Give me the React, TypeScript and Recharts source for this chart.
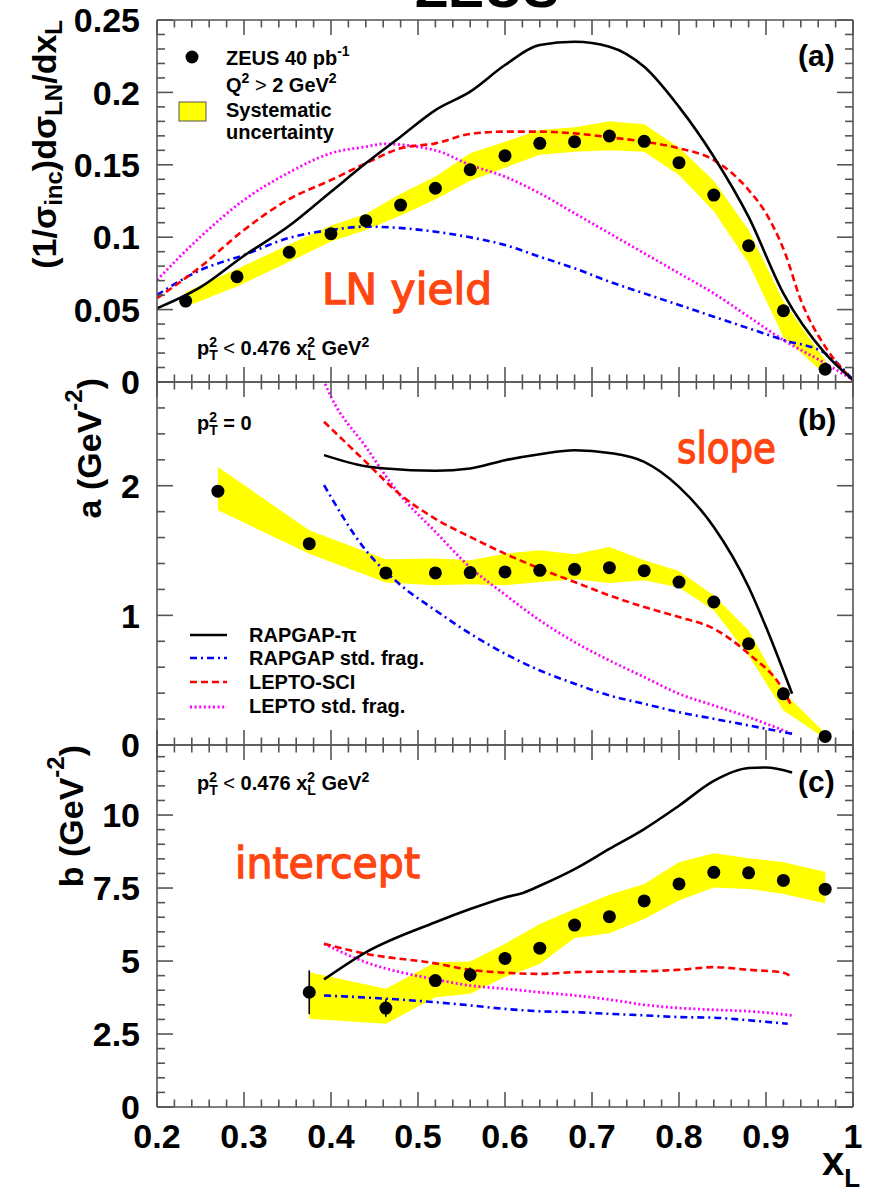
import React from "react";
import { ComposedChart, Line, Area, Scatter, XAxis, YAxis, ErrorBar } from "recharts";

const W = 871;
const FRAME = "#555555";
const FONT = "'Liberation Sans', Arial, Helvetica, sans-serif";
const ORANGE = "#ff4510";

// ---------- x-axis ticks ----------
const xMajorTicks = [0.2, 0.3, 0.4, 0.5, 0.6, 0.7, 0.8, 0.9, 1.0];
const range = (a: number, b: number, s: number) => {
  const out: number[] = [];
  const n = Math.round((b - a) / s);
  for (let i = 0; i <= n; i++) out.push(+(a + i * s).toFixed(4));
  return out;
};
const xAllTicks = range(0.2, 1.0, 0.02);

// ---------- panel (a): LN yield ----------
const aYMajor = [0, 0.05, 0.1, 0.15, 0.2, 0.25];
const aYLabels = ["0", "0.05", "0.1", "0.15", "0.2", "0.25"];
const aYAll = range(0, 0.25, 0.01);
const aX = [0.233, 0.292, 0.352, 0.40, 0.44, 0.48, 0.52, 0.56, 0.60, 0.64, 0.68, 0.72, 0.76, 0.80, 0.84, 0.88, 0.92, 0.968];
const aData = [0.0559, 0.0727, 0.0896, 0.1024, 0.1114, 0.1222, 0.1338, 0.1466, 0.1563, 0.1648, 0.166, 0.1699, 0.1662, 0.1515, 0.1291, 0.0941, 0.0492, 0.0088];
const aLow = [0.052, 0.066, 0.083, 0.097, 0.105, 0.115, 0.126, 0.139, 0.148, 0.157, 0.159, 0.160, 0.159, 0.143, 0.118, 0.082, 0.031, 0.005];
const aHigh = [0.062, 0.078, 0.095, 0.108, 0.116, 0.130, 0.142, 0.158, 0.166, 0.174, 0.176, 0.180, 0.178, 0.162, 0.139, 0.105, 0.056, 0.015];

const aPiX = [0.2, 0.25, 0.3, 0.35, 0.4, 0.44, 0.48, 0.52, 0.56, 0.60, 0.64, 0.68, 0.72, 0.76, 0.80, 0.84, 0.88, 0.92, 0.968, 1.0];
const aPiY = [0.0509, 0.0655, 0.0872, 0.107, 0.1314, 0.151, 0.1694, 0.1878, 0.2005, 0.2189, 0.2327, 0.235, 0.2316, 0.2177, 0.190, 0.1556, 0.114, 0.0612, 0.0198, 0.0014];
const aSciX = [0.2, 0.25, 0.3, 0.35, 0.4, 0.44, 0.48, 0.52, 0.56, 0.60, 0.64, 0.68, 0.72, 0.76, 0.80, 0.84, 0.88, 0.90, 0.922, 0.94, 0.968, 1.0];
const aSciY = [0.0578, 0.0796, 0.105, 0.1257, 0.1395, 0.151, 0.1614, 0.1648, 0.1713, 0.1729, 0.1729, 0.1717, 0.169, 0.166, 0.1614, 0.1533, 0.1326, 0.1165, 0.0889, 0.0566, 0.0244, 0.0014];
const aLepX = [0.2, 0.25, 0.3, 0.35, 0.4, 0.44, 0.46, 0.52, 0.56, 0.60, 0.64, 0.68, 0.72, 0.76, 0.80, 0.84, 0.88, 0.92, 0.968, 1.0];
const aLepY = [0.0704, 0.1003, 0.1257, 0.1441, 0.158, 0.1625, 0.1644, 0.160, 0.1499, 0.1418, 0.1303, 0.1165, 0.1027, 0.0889, 0.0751, 0.0612, 0.0451, 0.029, 0.0129, 0.0014];
const aStdX = [0.2, 0.25, 0.3, 0.35, 0.4, 0.44, 0.52, 0.56, 0.60, 0.64, 0.68, 0.72, 0.76, 0.80, 0.84, 0.88, 0.92, 0.968, 1.0];
const aStdY = [0.0601, 0.0773, 0.0877, 0.0992, 0.105, 0.1073, 0.1038, 0.0999, 0.0946, 0.0865, 0.0785, 0.0693, 0.0612, 0.0532, 0.0451, 0.0371, 0.029, 0.0198, 0.0014];

// ---------- panel (b): slope ----------
const bYMajor = [0, 1, 2];
const bYLabels = ["0", "1", "2"];
const bYAll = range(0, 2.8, 0.2);
const bX = [0.27, 0.375, 0.463, 0.52, 0.56, 0.60, 0.64, 0.68, 0.72, 0.76, 0.80, 0.84, 0.88, 0.92, 0.968];
const bData = [1.958, 1.553, 1.327, 1.327, 1.33, 1.335, 1.347, 1.355, 1.368, 1.345, 1.257, 1.103, 0.781, 0.395, 0.066];
const bLow = [1.811, 1.476, 1.253, 1.232, 1.239, 1.232, 1.257, 1.278, 1.249, 1.27, 1.214, 1.039, 0.691, 0.266, 0.05];
const bHigh = [2.145, 1.656, 1.432, 1.438, 1.425, 1.476, 1.502, 1.471, 1.527, 1.425, 1.342, 1.154, 0.884, 0.408, 0.09];

const bPiX = [0.392, 0.44, 0.463, 0.52, 0.56, 0.60, 0.64, 0.68, 0.72, 0.76, 0.80, 0.84, 0.88, 0.90, 0.93];
const bPiY = [2.236, 2.15, 2.133, 2.115, 2.133, 2.197, 2.243, 2.274, 2.253, 2.184, 1.991, 1.682, 1.219, 0.91, 0.395];
const bSciX = [0.392, 0.44, 0.478, 0.52, 0.56, 0.60, 0.64, 0.68, 0.72, 0.76, 0.80, 0.84, 0.88, 0.92, 0.93];
const bSciY = [2.493, 2.184, 1.94, 1.745, 1.605, 1.476, 1.361, 1.257, 1.154, 1.064, 0.987, 0.897, 0.704, 0.421, 0.292];
const bLepX = [0.383, 0.40, 0.44, 0.478, 0.52, 0.56, 0.60, 0.64, 0.68, 0.72, 0.76, 0.80, 0.84, 0.88, 0.93];
const bLepY = [2.95, 2.686, 2.3, 1.94, 1.645, 1.37, 1.16, 0.961, 0.794, 0.652, 0.524, 0.395, 0.305, 0.215, 0.086];
const bStdX = [0.392, 0.44, 0.478, 0.52, 0.56, 0.60, 0.64, 0.68, 0.72, 0.76, 0.80, 0.84, 0.88, 0.93];
const bStdY = [2.004, 1.502, 1.245, 1.039, 0.859, 0.704, 0.575, 0.473, 0.382, 0.318, 0.253, 0.202, 0.151, 0.086];

// ---------- panel (c): intercept ----------
const cYMajor = [0, 2.5, 5, 7.5, 10];
const cYLabels = ["0", "2.5", "5", "7.5", "10"];
const cYAll = range(0, 12, 0.5);
const cX = [0.375, 0.463, 0.52, 0.56, 0.60, 0.64, 0.68, 0.72, 0.76, 0.80, 0.84, 0.88, 0.92, 0.968];
const cData = [3.93, 3.39, 4.33, 4.53, 5.09, 5.44, 6.23, 6.52, 7.06, 7.64, 8.04, 8.02, 7.76, 7.46];
const cErr = [0.75, 0.3, 0.15, 0.25, 0.2, 0.15, 0.15, 0.15, 0.15, 0.15, 0.15, 0.15, 0.15, 0.15];
const cLow = [3.02, 2.85, 3.76, 3.88, 4.45, 4.9, 5.79, 5.95, 6.44, 7.07, 7.52, 7.47, 7.3, 6.98];
const cHigh = [4.62, 4.05, 4.96, 4.98, 5.59, 6.27, 6.78, 7.27, 7.64, 8.38, 8.69, 8.52, 8.38, 8.06];

const cPiX = [0.392, 0.44, 0.52, 0.56, 0.60, 0.622, 0.64, 0.68, 0.72, 0.76, 0.80, 0.84, 0.88, 0.90, 0.93];
const cPiY = [4.37, 5.3, 6.33, 6.78, 7.18, 7.35, 7.58, 8.15, 8.84, 9.52, 10.32, 11.17, 11.61, 11.63, 11.46];
const cSciX = [0.392, 0.44, 0.52, 0.56, 0.60, 0.64, 0.68, 0.72, 0.76, 0.80, 0.84, 0.88, 0.92, 0.93];
const cSciY = [5.59, 5.25, 4.92, 4.7, 4.6, 4.56, 4.62, 4.64, 4.65, 4.7, 4.79, 4.7, 4.6, 4.45];
const cLepX = [0.392, 0.44, 0.52, 0.56, 0.60, 0.64, 0.68, 0.72, 0.76, 0.80, 0.84, 0.88, 0.93];
const cLepY = [5.59, 4.96, 4.37, 4.16, 4.05, 3.93, 3.82, 3.68, 3.5, 3.39, 3.33, 3.28, 3.14];
const cStdX = [0.392, 0.463, 0.52, 0.56, 0.60, 0.64, 0.68, 0.72, 0.76, 0.80, 0.84, 0.88, 0.925];
const cStdY = [3.82, 3.71, 3.59, 3.48, 3.36, 3.28, 3.25, 3.19, 3.14, 3.08, 3.06, 2.97, 2.85];

// ---------- table builders ----------
const pts = (xs: number[], ys: number[], err?: number[]) =>
  xs.map((x, i) => ({ x, y: ys[i], err: err ? err[i] : 0 }));
const band = (xs: number[], lo: number[], hi: number[]) =>
  xs.map((x, i) => ({ x, band: [lo[i], hi[i]] }));

// ---------- styles ----------
const STYLES = {
  pi: { stroke: "#000000", strokeWidth: 2.6, strokeDasharray: undefined as string | undefined },
  std: { stroke: "#0000ff", strokeWidth: 2.6, strokeDasharray: "7 4 2 4" },
  sci: { stroke: "#ff0000", strokeWidth: 2.6, strokeDasharray: "7 4" },
  lep: { stroke: "#ff00ff", strokeWidth: 2.8, strokeDasharray: "2 2.6" },
};

const MAJ = 15;
const MIN = 7.5;
const TICK_W = 1.6;
const axisLineStyle = { stroke: FRAME, strokeWidth: 1.6 };
const isIn = (arr: number[], v: number) => arr.some((m) => Math.abs(m - v) < 1e-6);

// With tickSize 0 and tickMargin 0 the tick renderer receives the axis-line position,
// so the ROOT-style inward ticks are drawn from there into the frame.
const makeXBottomTick = (labels: boolean) => (props: any) => {
  const { x, y, payload } = props;
  const v = payload.value;
  const major = isIn(xMajorTicks, v);
  return (
    <g>
      <line x1={x} y1={y} x2={x} y2={y - (major ? MAJ : MIN)} stroke={FRAME} strokeWidth={TICK_W} />
      {labels && major && (
        <text x={x} y={y + 41} textAnchor="middle" fontFamily={FONT} fontWeight="bold" fontSize={34} fill="#000">
          {Math.abs(v - 1) < 1e-6 ? "1" : v.toFixed(1)}
        </text>
      )}
    </g>
  );
};

const xTopTick = (props: any) => {
  const { x, y, payload } = props;
  const len = isIn(xMajorTicks, payload.value) ? MAJ : MIN;
  return <line x1={x} y1={y} x2={x} y2={y + len} stroke={FRAME} strokeWidth={TICK_W} />;
};

const makeYLeftTick = (majors: number[], labels: string[]) => (props: any) => {
  const { x, y, payload } = props;
  const idx = majors.findIndex((m) => Math.abs(m - payload.value) < 1e-6);
  const len = idx >= 0 ? MAJ + 1 : MIN + 0.5;
  return (
    <g>
      <line x1={x} y1={y} x2={x + len} y2={y} stroke={FRAME} strokeWidth={TICK_W} />
      {idx >= 0 && (
        <text x={x - 17} y={y} dy="0.36em" textAnchor="end" fontFamily={FONT} fontWeight="bold" fontSize={34} fill="#000">
          {labels[idx]}
        </text>
      )}
    </g>
  );
};

const makeYRightTick = (majors: number[]) => (props: any) => {
  const { x, y, payload } = props;
  const len = isIn(majors, payload.value) ? MAJ + 1 : MIN + 0.5;
  return <line x1={x} y1={y} x2={x - len} y2={y} stroke={FRAME} strokeWidth={TICK_W} />;
};

const Dot = (props: any) => <circle cx={props.cx} cy={props.cy} r={6.5} fill="#000" />;

type PanelProps = {
  top: number;
  height: number;
  mTop: number;
  mBottom: number;
  xAxisH: number;
  domain: [number, number];
  yAll: number[];
  yMajor: number[];
  yLabels: string[];
  xLabels: boolean;
  children: React.ReactNode;
};

function Panel(p: PanelProps) {
  return (
    <div style={{ position: "absolute", left: 0, top: p.top }}>
      <ComposedChart width={W} height={p.height} margin={{ top: p.mTop, right: 17, bottom: p.mBottom, left: 0 }}>
        <XAxis
          xAxisId="b" dataKey="x" type="number" domain={[0.2, 1]} allowDataOverflow
          ticks={xAllTicks} interval={0} tick={makeXBottomTick(p.xLabels)} tickLine={false}
          tickSize={0} tickMargin={0} axisLine={axisLineStyle} height={p.xAxisH}
        />
        <XAxis
          xAxisId="t" orientation="top" dataKey="x" type="number" domain={[0.2, 1]} allowDataOverflow
          ticks={xAllTicks} interval={0} tick={xTopTick} tickLine={false}
          tickSize={0} tickMargin={0} axisLine={axisLineStyle} height={1}
        />
        <YAxis
          yAxisId="l" type="number" domain={p.domain} allowDataOverflow ticks={p.yAll} interval={0}
          tick={makeYLeftTick(p.yMajor, p.yLabels)} tickLine={false} tickSize={0} tickMargin={0}
          axisLine={axisLineStyle} width={157}
        />
        <YAxis
          yAxisId="r" orientation="right" type="number" domain={p.domain} allowDataOverflow ticks={p.yAll}
          interval={0} tick={makeYRightTick(p.yMajor)} tickLine={false} tickSize={0} tickMargin={0}
          axisLine={axisLineStyle} width={1}
        />
        {p.children}
      </ComposedChart>
    </div>
  );
}

const curve = (key: string, xs: number[], ys: number[], st: any) => (
  <Line
    key={key}
    xAxisId="b"
    yAxisId="l"
    data={pts(xs, ys)}
    dataKey="y"
    type="monotone"
    stroke={st.stroke}
    strokeWidth={st.strokeWidth}
    strokeDasharray={st.strokeDasharray}
    dot={false}
    activeDot={false}
    isAnimationActive={false}
  />
);

const bandArea = (xs: number[], lo: number[], hi: number[]) => (
  <Area
    key="band"
    xAxisId="b"
    yAxisId="l"
    data={band(xs, lo, hi)}
    dataKey="band"
    type="linear"
    stroke="none"
    fill="#ffff00"
    fillOpacity={1}
    isAnimationActive={false}
  />
);

const points = (xs: number[], ys: number[], err?: number[]) => (
  <Scatter
    key="pts"
    xAxisId="b"
    yAxisId="l"
    data={pts(xs, ys, err)}
    dataKey="y"
    shape={Dot}
    isAnimationActive={false}
  >
    {err && <ErrorBar dataKey="err" direction="y" width={0} stroke="#000" strokeWidth={1.6} />}
  </Scatter>
);

const txt = { fontFamily: FONT, fontWeight: "bold" as const, fill: "#000" };

function PtLabel({ x, y, tail }: { x: number; y: number; tail: React.ReactNode }) {
  return (
    <text x={x} y={y} fontSize={20} {...txt}>
      p<tspan fontSize={14} dy={-8}>2</tspan>
      <tspan fontSize={14} dx={-7.8} dy={13}>T</tspan>
      <tspan dy={-5}>{tail}</tspan>
    </text>
  );
}

const ptTail = (
  <>
    {" "}
    <tspan fontWeight="normal">&lt;</tspan> 0.476 x<tspan fontSize={14} dy={-8}>2</tspan>
    <tspan fontSize={14} dx={-7.8} dy={13}>L</tspan>
    <tspan dy={-5}> GeV</tspan>
    <tspan fontSize={14} dy={-8}>2</tspan>
  </>
);

function Overlay() {
  return (
    <svg width={W} height={1192} style={{ position: "absolute", left: 0, top: 0, pointerEvents: "none" }}>
      {/* title, cut at the top edge as in the original */}
      <text x={487} y={7} textAnchor="middle" fontSize={54} {...txt}>ZEUS</text>

      {/* axis titles */}
      <text transform="translate(56,20) rotate(-90)" textAnchor="end" fontSize={34} {...txt}>
        (1/σ<tspan fontSize={24} dy={6}>inc</tspan>
        <tspan dy={-6}>)dσ</tspan>
        <tspan fontSize={24} dy={6}>LN</tspan>
        <tspan dy={-6}>/dx</tspan>
        <tspan fontSize={24} dy={6}>L</tspan>
      </text>
      <text transform="translate(101,378) rotate(-90)" textAnchor="end" fontSize={34} {...txt}>
        a (GeV<tspan fontSize={24} dy={-19}>-2</tspan>
        <tspan dy={19}>)</tspan>
      </text>
      <text transform="translate(83,745) rotate(-90)" textAnchor="end" fontSize={34} {...txt}>
        b (GeV<tspan fontSize={24} dy={-19}>-2</tspan>
        <tspan dy={19}>)</tspan>
      </text>
      <text x={822} y={1175} fontSize={40} {...txt}>
        x<tspan fontSize={26} dy={12}>L</tspan>
      </text>

      {/* panel labels */}
      <text x={798} y={66} fontSize={30} {...txt}>(a)</text>
      <text x={798} y={430} fontSize={30} {...txt}>(b)</text>
      <text x={798} y={792} fontSize={30} {...txt}>(c)</text>

      {/* legend (a) */}
      <circle cx={192} cy={57} r={6.5} fill="#000" />
      <text x={226} y={65} fontSize={20} {...txt}>
        ZEUS 40 pb<tspan fontSize={14} dy={-9}>-1</tspan>
      </text>
      <text x={226} y={92} fontSize={20} {...txt}>
        Q<tspan fontSize={14} dy={-9}>2</tspan>
        <tspan dy={9} fontWeight="normal"> &gt; </tspan>
        <tspan>2 GeV</tspan>
        <tspan fontSize={14} dy={-9}>2</tspan>
      </text>
      <rect x={179} y={102} width={27} height={19} fill="#ffff00" stroke="#555" strokeWidth={1} />
      <text x={226} y={117} fontSize={20} {...txt}>Systematic</text>
      <text x={226} y={139} fontSize={20} {...txt}>uncertainty</text>

      {/* cut conditions */}
      <PtLabel x={197} y={355} tail={ptTail} />
      <PtLabel x={197} y={430} tail={<> = 0</>} />
      <PtLabel x={197} y={790} tail={ptTail} />

      {/* legend (b) */}
      <line x1={190} y1={635} x2={227} y2={635} stroke="#000" strokeWidth={2.6} />
      <line x1={190} y1={658} x2={227} y2={658} stroke="#0000ff" strokeWidth={2.6} strokeDasharray="7 4 2 4" />
      <line x1={190} y1={682} x2={227} y2={682} stroke="#ff0000" strokeWidth={2.6} strokeDasharray="7 4" />
      <line x1={190} y1={707} x2={227} y2={707} stroke="#ff00ff" strokeWidth={2.8} strokeDasharray="2 2.6" />
      <text x={249} y={642} fontSize={20} {...txt}>RAPGAP-π</text>
      <text x={249} y={665} fontSize={20} {...txt}>RAPGAP std. frag.</text>
      <text x={249} y={689} fontSize={20} {...txt}>LEPTO-SCI</text>
      <text x={249} y={713} fontSize={20} {...txt}>LEPTO std. frag.</text>

      {/* coloured annotations */}
      <text x={322} y={304} fontSize={43} textLength={170} lengthAdjust="spacingAndGlyphs"
        fontFamily="'DejaVu Sans', sans-serif" fill={ORANGE} stroke={ORANGE} strokeWidth={1.3}>LN yield</text>
      <text x={677} y={463} fontSize={43} textLength={99} lengthAdjust="spacingAndGlyphs"
        fontFamily="'DejaVu Sans', sans-serif" fill={ORANGE} stroke={ORANGE} strokeWidth={1.3}>slope</text>
      <text x={235} y={878} fontSize={43} textLength={185} lengthAdjust="spacingAndGlyphs"
        fontFamily="'DejaVu Sans', sans-serif" fill={ORANGE} stroke={ORANGE} strokeWidth={1.3}>intercept</text>
    </svg>
  );
}

export default function App() {
  return (
    <div style={{ position: "absolute", left: 0, top: 0, width: W, height: 1192, background: "#fff", overflow: "hidden" }}>
      <Panel top={0} height={400} mTop={19} mBottom={17} xAxisH={1} domain={[0, 0.25]}
        yAll={aYAll} yMajor={aYMajor} yLabels={aYLabels} xLabels={false}>
        {bandArea(aX, aLow, aHigh)}
        {curve("lep", aLepX, aLepY, STYLES.lep)}
        {curve("std", aStdX, aStdY, STYLES.std)}
        {curve("sci", aSciX, aSciY, STYLES.sci)}
        {curve("pi", aPiX, aPiY, STYLES.pi)}
        {points(aX, aData)}
      </Panel>
      <Panel top={364} height={399} mTop={17} mBottom={17} xAxisH={1} domain={[0, 2.8]}
        yAll={bYAll} yMajor={bYMajor} yLabels={bYLabels} xLabels={false}>
        {bandArea(bX, bLow, bHigh)}
        {curve("lep", bLepX, bLepY, STYLES.lep)}
        {curve("std", bStdX, bStdY, STYLES.std)}
        {curve("sci", bSciX, bSciY, STYLES.sci)}
        {curve("pi", bPiX, bPiY, STYLES.pi)}
        {points(bX, bData)}
      </Panel>
      <Panel top={727} height={465} mTop={17} mBottom={0} xAxisH={85} domain={[0, 12.4]}
        yAll={cYAll} yMajor={cYMajor} yLabels={cYLabels} xLabels={true}>
        {bandArea(cX, cLow, cHigh)}
        {curve("lep", cLepX, cLepY, STYLES.lep)}
        {curve("std", cStdX, cStdY, STYLES.std)}
        {curve("sci", cSciX, cSciY, STYLES.sci)}
        {curve("pi", cPiX, cPiY, STYLES.pi)}
        {points(cX, cData, cErr)}
      </Panel>
      <Overlay />
    </div>
  );
}
